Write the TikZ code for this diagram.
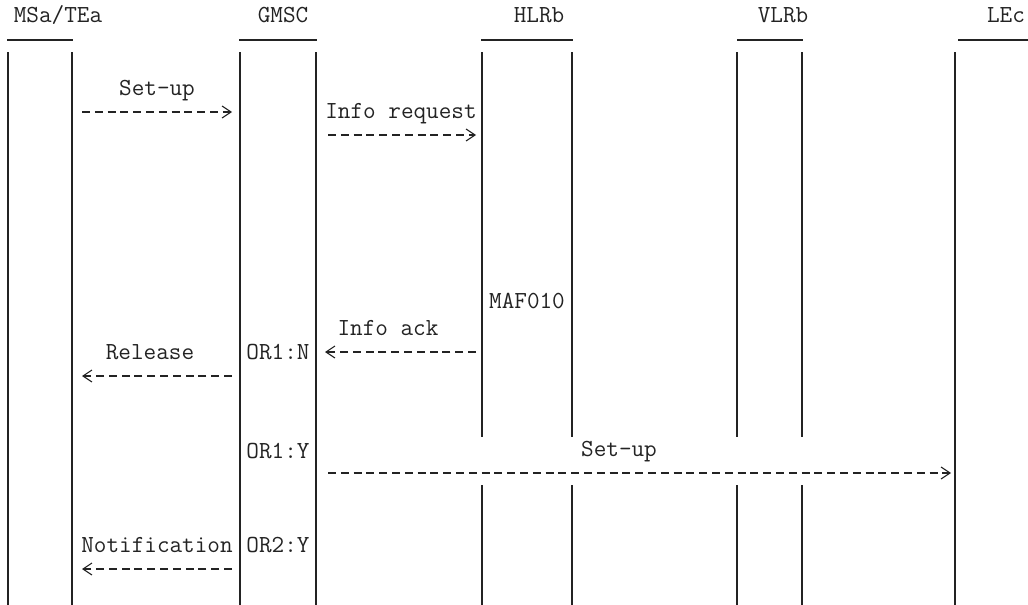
\documentclass[tikz,border=0pt]{standalone}
\usepackage{fontspec}
\usetikzlibrary{arrows.meta}

\begin{document}
\begin{tikzpicture}[
    x=1pt,
    y=-1pt,
    every node/.style={font=\ttfamily\fontsize{24.5}{28}\selectfont, inner sep=0pt, text=ink},
    life/.style={ink, line width=1.2pt},
    bar/.style={ink, line width=1.2pt},
    msg/.style={ink, line width=1.1pt, dash pattern=on 8pt off 4.8pt,
        -{Straight Barb[length=9pt,width=12pt]}}
]

\definecolor{ink}{RGB}{35,35,35}

\useasboundingbox (0,0) rectangle (1028,605);

% -----------------------------
% Entities
% -----------------------------
\node[anchor=base] (msa)  at (58,23)   {MSa/TEa};
\node[anchor=base] (gmsc) at (283,23)  {GMSC};
\node[anchor=base] (hlr)  at (539,23)  {HLRb};
\node[anchor=base] (vlr)  at (783,23)  {VLRb};
\node[anchor=base] (lec)  at (1006,23) {LEc};

\draw[bar] (7,40) -- (73,40);
\draw[bar] (239,40) -- (317,40);
\draw[bar] (481,40) -- (573,40);
\draw[bar] (737,40) -- (803,40);
\draw[bar] (958,40) -- (1028,40);

% -----------------------------
% Life lines
% -----------------------------
\draw[life] (8,52) -- (8,605);
\draw[life] (72,52) -- (72,605);
\draw[life] (240,52) -- (240,605);
\draw[life] (316,52) -- (316,605);
\draw[life] (482,52) -- (482,437) (482,485) -- (482,605);
\draw[life] (572,52) -- (572,437) (572,485) -- (572,605);
\draw[life] (737,52) -- (737,437) (737,485) -- (737,605);
\draw[life] (802,52) -- (802,437) (802,485) -- (802,605);
\draw[life] (955,52) -- (955,605);

% -----------------------------
% Message ends
% -----------------------------
\coordinate (msaR1) at (82,112);
\coordinate (gmL1)  at (232,112);
\coordinate (gmR2)  at (328,135);
\coordinate (hlL2)  at (476,135);
\coordinate (hlL3)  at (476,352);
\coordinate (gmR3)  at (325,352);
\coordinate (gmL4)  at (232,376);
\coordinate (msaR4) at (82,376);
\coordinate (gmR5)  at (328,473);
\coordinate (leL5)  at (951,473);
\coordinate (gmL6)  at (232,569);
\coordinate (msaR6) at (82,569);

% -----------------------------
% Messages
% -----------------------------
\node[anchor=base] (setup1) at (157,95) {Set-up};
\draw[msg] (msaR1) -- (gmL1);

\node[anchor=base] (inforeq) at (401,118) {Info request};
\draw[msg] (gmR2) -- (hlL2);

\node[anchor=base] (maf) at (527,308) {MAF010};

\node[anchor=base] (infoack) at (388,335) {Info ack};
\draw[msg] (hlL3) -- (gmR3);

\node[anchor=base] (release) at (150,359) {Release};
\node[anchor=base] (or1n) at (278,359) {OR1:N};
\draw[msg] (gmL4) -- (msaR4);

\node[anchor=base] (or1y) at (278,458) {OR1:Y};
\node[anchor=base] (setup2) at (619,456) {Set-up};
\draw[msg] (gmR5) -- (leL5);

\node[anchor=base] (notif) at (157,552) {Notification};
\node[anchor=base] (or2y) at (278,552) {OR2:Y};
\draw[msg] (gmL6) -- (msaR6);

\end{tikzpicture}
\end{document}
